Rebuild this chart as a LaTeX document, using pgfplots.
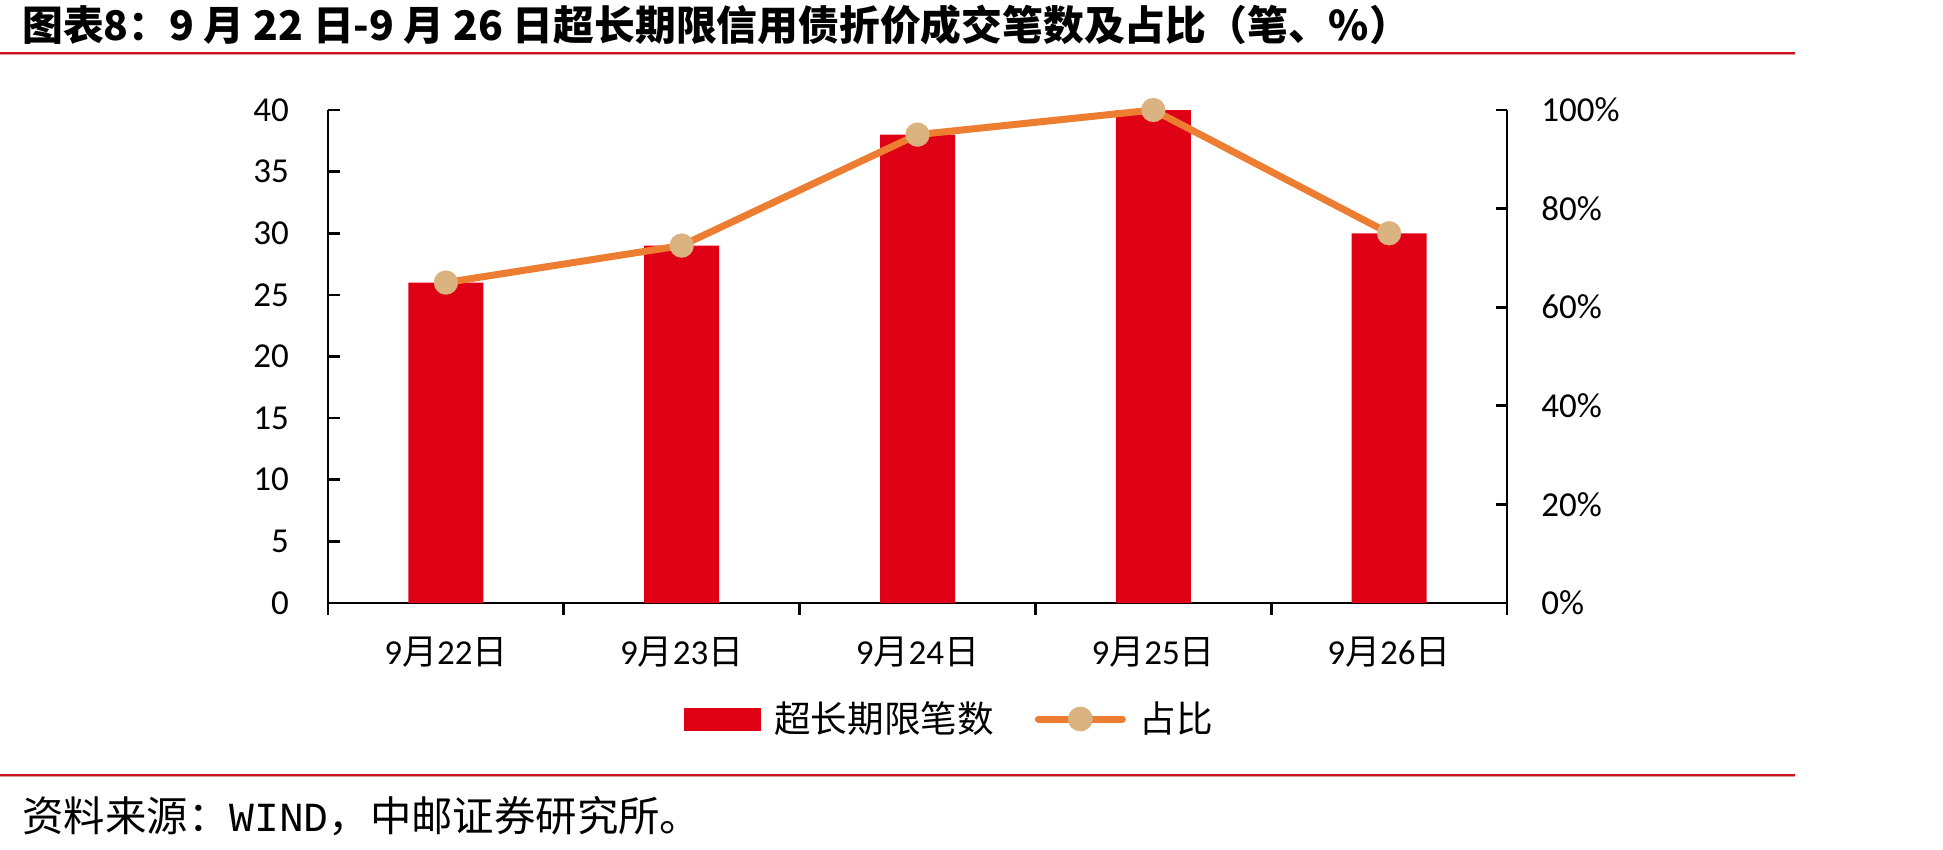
\documentclass[border=0pt]{standalone}
\usepackage{pgfplots}
\pgfplotsset{compat=1.18}
\usepackage{fontspec}
\setmainfont{Carlito}
\newfontfamily\cjk{Noto Sans CJK SC}
\newfontfamily\mono{Liberation Mono}
\newcommand\cj[1]{{\cjk #1}}
\definecolor{barred}{RGB}{224,0,22}
\definecolor{lineor}{RGB}{237,125,49}
\definecolor{mtan}{RGB}{219,179,128}
\definecolor{rulered}{RGB}{200,20,30}
\definecolor{rulepink}{RGB}{232,150,150}

\pgfplotstableread{
x cnt
0 26
1 29
2 38
3 40
4 30
}\cnttable
\pgfplotstableread{
x pct
0 65
1 72.5
2 95
3 100
4 75
}\pcttable

\begin{document}
\begin{tikzpicture}
\useasboundingbox (0,0) rectangle (971.5pt,-425pt);
\node[anchor=west, inner sep=0pt] at (11pt,-12.5pt) {\fontsize{20.4pt}{24pt}\selectfont\cjk\bfseries 图表8：9 月 22 日-9 月 26 日超长期限信用债折价成交笔数及占比（笔、\%）};
\fill[rulered] (0pt,-25.8pt) rectangle (897.5pt,-26.8pt);
\fill[rulepink] (0pt,-26.8pt) rectangle (897.5pt,-27.3pt);
\fill[rulered] (0pt,-386.8pt) rectangle (897.5pt,-387.8pt);
\fill[rulepink] (0pt,-387.8pt) rectangle (897.5pt,-388.3pt);
\node[anchor=west, inner sep=0pt] at (11pt,-408pt) {\fontsize{20.7pt}{24pt}\selectfont\cjk 资料来源：{\mono WIND}，中邮证券研究所。};

\begin{axis}[
 at={(164pt,-301.5pt)}, anchor=south west,
 scale only axis, width=589.5pt, height=246.5pt,
 xmin=-0.5, xmax=4.5, ymin=0, ymax=40,
 axis x line*=bottom, axis y line*=left,
 axis line style={line width=1.35pt, -},
 xtick={-0.5,0.5,1.5,2.5,3.5,4.5}, xticklabels={},
 xtick align=outside, ytick align=inside,
 major tick length=5.75pt,
 tick style={line width=1.35pt, black},
 extra x ticks={0,1,2,3,4},
 extra x tick labels={9\cj{月}22\cj{日},9\cj{月}23\cj{日},9\cj{月}24\cj{日},9\cj{月}25\cj{日},9\cj{月}26\cj{日}},
 extra x tick style={major tick length=0pt, xticklabel style={yshift=-13.5pt}},
 ytick={0,5,...,40}, yticklabels={0,5,10,15,20,25,30,35,40},
 yticklabel style={xshift=-16pt},
 ticklabel style={font=\fontsize{17.5pt}{20pt}\selectfont},
 ybar, bar width=37.5pt,
 legend columns=2,
 legend style={draw=none, fill=none, at={(0.526,-0.2353)}, anchor=center,
   font=\fontsize{18.3pt}{21pt}\selectfont\cjk,
   nodes={inner sep=0pt},
   /tikz/every odd column/.append style={column sep=6.8pt},
   /tikz/every even column/.append style={column sep=20.5pt}},
 legend image code/.code={\fill[barred] (0pt,-5.75pt) rectangle (38.5pt,5.75pt);},
]
\addplot[fill=barred, draw=none] table[x=x, y=cnt] {\cnttable};
\addlegendentry{超长期限笔数}
\addlegendimage{legend image code/.code={\draw[lineor, line width=3.5pt, line cap=round] (0pt,0pt) -- (42pt,0pt); \fill[mtan] (21pt,0pt) circle (6pt);}}
\addlegendentry{占比}
\end{axis}

\begin{axis}[
 at={(164pt,-301.5pt)}, anchor=south west,
 scale only axis, width=589.5pt, height=246.5pt,
 xmin=-0.5, xmax=4.5, ymin=0, ymax=100,
 axis y line*=right, axis x line=none,
 axis line style={line width=1.35pt, -},
 ytick={0,20,...,100}, yticklabels={0\%,20\%,40\%,60\%,80\%,100\%},
 ytick align=inside, major tick length=5.75pt,
 tick style={line width=1.35pt, black},
 yticklabel style={xshift=13.7pt},
 ticklabel style={font=\fontsize{17.5pt}{20pt}\selectfont},
 clip=false,
]
\addplot[lineor, line width=3.5pt, line join=round, mark=*, mark size=6pt, mark options={solid, fill=mtan, draw=mtan, line width=0.1pt}] table[x=x, y=pct] {\pcttable};
\end{axis}
\end{tikzpicture}
\end{document}
